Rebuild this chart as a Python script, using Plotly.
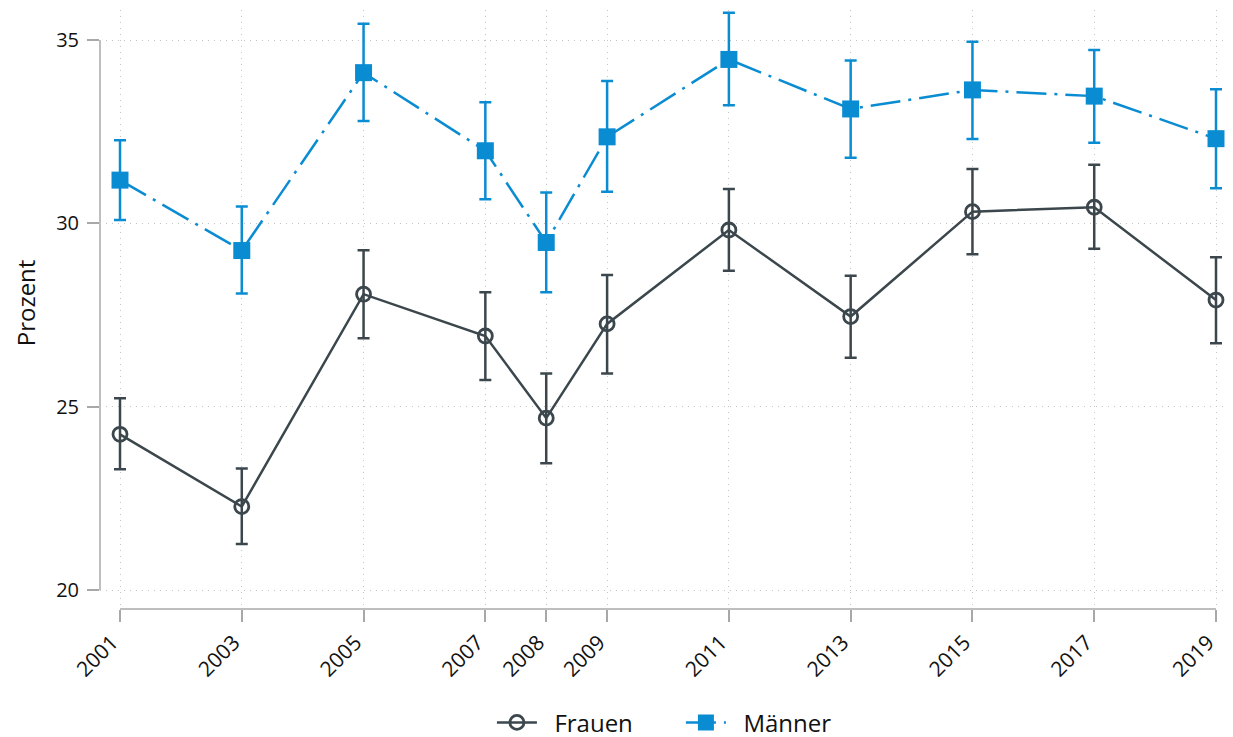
import plotly.graph_objects as go

years = [2001, 2003, 2005, 2007, 2008, 2009, 2011, 2013, 2015, 2017, 2019]
tick_labels = [str(y) for y in years]

frauen = [24.25, 22.28, 28.07, 26.93, 24.69, 27.26, 29.82, 27.46, 30.32, 30.44, 27.91]
frauen_hi = [25.23, 23.32, 29.27, 28.12, 25.91, 28.59, 30.94, 28.57, 31.48, 31.60, 29.08]
frauen_lo = [23.30, 21.26, 26.87, 25.73, 23.46, 25.91, 28.71, 26.34, 29.16, 29.31, 26.73]

maenner = [31.18, 29.26, 34.11, 31.98, 29.48, 32.36, 34.47, 33.12, 33.64, 33.47, 32.31]
maenner_hi = [32.27, 30.46, 35.44, 33.30, 30.84, 33.88, 35.74, 34.44, 34.95, 34.73, 33.66]
maenner_lo = [30.09, 28.09, 32.79, 30.66, 28.12, 30.86, 33.22, 31.79, 32.30, 32.20, 30.96]

y_ticks = [20, 25, 30, 35]

DARK = "#3b474c"
BLUE = "#0a8cd2"
GRID = "#c4c4c4"
AXIS = "#a8a8a8"
FONT = "Open Sans"
PAD = "\u00a0\u00a0"

fig = go.Figure()

fig.add_trace(go.Scatter(
    x=years, y=frauen, name=PAD + "Frauen", mode="lines+markers",
    line=dict(color=DARK, width=2.5),
    marker=dict(symbol="circle-open", size=14, color=DARK, line=dict(width=2.8, color=DARK)),
    error_y=dict(type="data", symmetric=False,
                 array=[h - v for h, v in zip(frauen_hi, frauen)],
                 arrayminus=[v - l for v, l in zip(frauen, frauen_lo)],
                 color=DARK, thickness=2.5, width=6),
))

fig.add_trace(go.Scatter(
    x=years, y=maenner, name=PAD + "Männer", mode="lines+markers",
    line=dict(color=BLUE, width=2.5, dash="30px,8px,3px,8px"),
    marker=dict(symbol="square", size=17, color=BLUE),
    error_y=dict(type="data", symmetric=False,
                 array=[h - v for h, v in zip(maenner_hi, maenner)],
                 arrayminus=[v - l for v, l in zip(maenner, maenner_lo)],
                 color=BLUE, thickness=2.5, width=6),
))

# offset axis lines (span only the tick range)
fig.add_shape(type="line", xref="paper", yref="y", x0=0, x1=0, y0=y_ticks[0], y1=y_ticks[-1],
              line=dict(color=AXIS, width=1.5), layer="below")
fig.add_shape(type="line", xref="x", yref="paper", x0=years[0], x1=years[-1], y0=0, y1=0,
              line=dict(color=AXIS, width=1.5), layer="below")

fig.add_annotation(text="Prozent", xref="paper", yref="paper", x=-0.0665, y=0.512,
                   xanchor="center", yanchor="middle", textangle=-90, showarrow=False,
                   font=dict(family=FONT, size=24, color="#111111"))

fig.update_layout(
    width=1233, height=737,
    margin=dict(l=92, r=13, t=2, b=136, autoexpand=False),
    paper_bgcolor="white", plot_bgcolor="white",
    font=dict(family=FONT, size=20, color="#111111"),
    showlegend=True,
    legend=dict(orientation="h", x=0.515, xanchor="center", y=-0.19, yanchor="middle",
                font=dict(family=FONT, size=24, color="#111111"), itemwidth=40,
                entrywidth=134, tracegroupgap=0),
    xaxis=dict(range=[2000.6715, 2019.197], tickmode="array", tickvals=years, ticktext=tick_labels,
               tickangle=-45, ticks="outside", ticklen=12, tickcolor=AXIS, tickwidth=1.5,
               ticklabelshift=-8,
               showline=False, zeroline=False, automargin=False,
               showgrid=True, gridcolor=GRID, griddash="1px,5px", gridwidth=1.2,
               tickfont=dict(family=FONT, size=21)),
    yaxis=dict(range=[19.487, 35.818], tickmode="array", tickvals=y_ticks,
               ticks="outside", ticklen=12, tickcolor=AXIS, tickwidth=1.5,
               ticklabelstandoff=4,
               showline=False, zeroline=False, automargin=False,
               showgrid=True, gridcolor=GRID, griddash="1px,5px", gridwidth=1.2,
               tickfont=dict(family=FONT, size=20)),
)

fig.write_html("out.html")
